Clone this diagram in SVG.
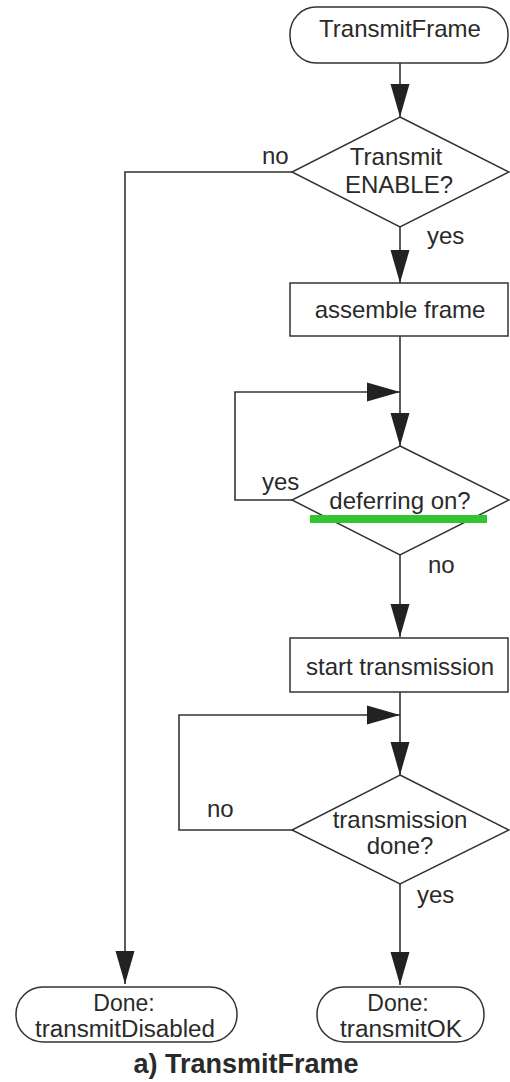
<svg xmlns="http://www.w3.org/2000/svg" width="510" height="1082" viewBox="0 0 510 1082">
  <style>
    .shape { fill: #ffffff; stroke: #333333; stroke-width: 1.5; }
    .line { fill: none; stroke: #333333; stroke-width: 1.6; }
    .txt { font-family: "Liberation Sans", Arial, sans-serif; font-size: 24px; fill: #2a2a2a; text-anchor: middle; }
    .txt2 { font-family: "Liberation Sans", Arial, sans-serif; font-size: 23px; fill: #2a2a2a; text-anchor: middle; }
    .lbl { font-family: "Liberation Sans", Arial, sans-serif; font-size: 24px; fill: #2a2a2a; }
    .cap { font-family: "Liberation Sans", Arial, sans-serif; font-size: 27px; font-weight: bold; fill: #2a2a2a; text-anchor: middle; }
  </style>
  <defs>
    <marker id="arrow" markerUnits="userSpaceOnUse" markerWidth="34" markerHeight="20" refX="33" refY="10" orient="auto">
      <path d="M0,0.5 L33,10 L0,19.5 Z" fill="#222222"/>
    </marker>
  </defs>
  <rect width="510" height="1082" fill="#ffffff"/>

  <!-- connectors -->
  <g id="connectors">
    <line class="line" x1="400" y1="63" x2="400" y2="117" marker-end="url(#arrow)"/>
    <polyline class="line" points="292,172 125,172 125,984" marker-end="url(#arrow)"/>
    <line class="line" x1="400" y1="227" x2="400" y2="283" marker-end="url(#arrow)"/>
    <line class="line" x1="400" y1="336" x2="400" y2="446" marker-end="url(#arrow)"/>
    <polyline class="line" points="292,500 235,500 235,392 400,392" marker-end="url(#arrow)"/>
    <line class="line" x1="400" y1="555" x2="400" y2="637" marker-end="url(#arrow)"/>
    <line class="line" x1="400" y1="692" x2="400" y2="775" marker-end="url(#arrow)"/>
    <polyline class="line" points="292,830 179,830 179,715 400,715" marker-end="url(#arrow)"/>
    <line class="line" x1="400" y1="884" x2="400" y2="985" marker-end="url(#arrow)"/>
    <text class="lbl" x="262" y="164">no</text>
    <text class="lbl" x="427" y="244">yes</text>
    <text class="lbl" x="262" y="490">yes</text>
    <text class="lbl" x="428" y="573">no</text>
    <text class="lbl" x="207" y="817">no</text>
    <text class="lbl" x="417" y="903">yes</text>
  </g>

  <g id="start">
    <rect class="shape" x="290" y="7" width="218" height="56" rx="26" ry="27"/>
    <text class="txt" x="400" y="37">TransmitFrame</text>
  </g>

  <g id="enable-check">
    <polygon class="shape" points="400,117 509,172 400,227 292,172"/>
    <text class="txt" x="396" y="165">Transmit</text>
    <text class="txt" x="399" y="193">ENABLE?</text>
  </g>

  <g id="assemble">
    <rect class="shape" x="290" y="283" width="218" height="53"/>
    <text class="txt" x="400" y="318">assemble frame</text>
  </g>

  <g id="deferring-check">
    <polygon class="shape" points="400,446 509,500 400,555 292,500"/>
    <text class="txt" x="400" y="509">deferring on?</text>
    <rect x="310" y="515" width="177" height="8" fill="#33c433"/>
  </g>

  <g id="start-transmission">
    <rect class="shape" x="290" y="638" width="218" height="54"/>
    <text class="txt" x="400" y="675">start transmission</text>
  </g>

  <g id="done-check">
    <polygon class="shape" points="400,775 509,830 400,884 292,830"/>
    <text class="txt" x="400" y="828">transmission</text>
    <text class="txt" x="400" y="854">done?</text>
  </g>

  <g id="done-disabled">
    <rect class="shape" x="16" y="987" width="221" height="55" rx="27" ry="27"/>
    <text class="txt2" x="124" y="1011">Done:</text>
    <text class="txt2" x="125" y="1037" textLength="180" lengthAdjust="spacingAndGlyphs">transmitDisabled</text>
  </g>

  <g id="done-ok">
    <rect class="shape" x="317" y="987" width="167" height="55" rx="27" ry="27"/>
    <text class="txt2" x="398" y="1011">Done:</text>
    <text class="txt2" x="401" y="1037" textLength="122" lengthAdjust="spacingAndGlyphs">transmitOK</text>
  </g>

  <text class="cap" x="246" y="1073">a) TransmitFrame</text>
</svg>
